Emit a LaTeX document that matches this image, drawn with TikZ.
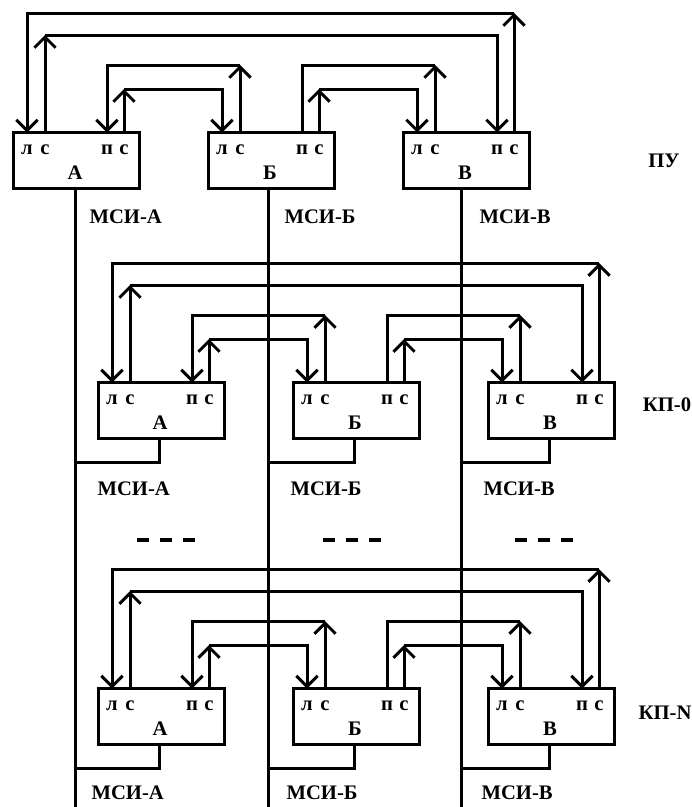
\documentclass[tikz,border=0pt]{standalone}
\usepackage{fontspec}
\setmainfont{Liberation Serif}
\usetikzlibrary{arrows.meta,calc}

% one level: three blocks A, B, V and the ring links between them
\newcommand{\msirow}[3]{%
  \foreach \k/\t [count=\i from 0] in {a/А,b/Б,v/В}{
    \node[unit] (#1\k) at ({#2+195*\i+64.5},{#3+29.5}) {};
    \node[txt] (#1\k-name) at ({#2+195*\i+63},{#3+42}) {\t};
    \foreach \p/\dx/\s in {l/15/л,lc/33/с,p/95/п,pc/112/с}{
      \coordinate (#1\k-\p) at ({#2+195*\i+\dx},{#3+1.5});
      \node[txt] (#1\k-\p-t) at ({#2+195*\i+\dx},{#3+19}) {\s};
    }
  }
  \draw[->] (#1v-pc) -- (#1v-pc |- 0,{#3-118});
  \draw[->] (#1v-pc |- 0,{#3-118}) -| (#1a-l);
  \draw[->] (#1a-lc) -- (#1a-lc |- 0,{#3-96});
  \draw[->] (#1a-lc |- 0,{#3-96}) -| (#1v-p);
  \draw[->] (#1b-lc) -- (#1b-lc |- 0,{#3-66});
  \draw[->] (#1b-lc |- 0,{#3-66}) -| (#1a-p);
  \draw[->] (#1a-pc) -- (#1a-pc |- 0,{#3-42});
  \draw[->] (#1a-pc |- 0,{#3-42}) -| (#1b-l);
  \draw[->] (#1v-lc) -- (#1v-lc |- 0,{#3-66});
  \draw (#1v-lc |- 0,{#3-66}) -| (#1b-p);
  \draw[->] (#1b-pc) -- (#1b-pc |- 0,{#3-42});
  \draw[->] (#1b-pc |- 0,{#3-42}) -| (#1v-l);
}

\begin{document}
\begin{tikzpicture}[x=0.75pt,y=-0.75pt,line width=2.25pt,
    >={Straight Barb[length=8pt,width=16pt]},
    unit/.style={draw,minimum width=94.5pt,minimum height=42pt,inner sep=0pt},
    txt/.style={font=\bfseries\fontsize{15.5}{18}\selectfont,inner sep=0pt},
    gap/.style={line width=3pt,dash pattern=on 9pt off 8.25pt}]
  \useasboundingbox (0,0) rectangle (692,807);

  \msirow{pu}{12}{131}
  \msirow{kz}{97}{381}
  \msirow{kn}{97}{687}

  % common lines
  \foreach \k/\t [count=\i from 0] in {a/А,b/Б,v/В}{
    \coordinate (msi\k) at ({75+193*\i},807);
    \draw (pu\k.south -| msi\k) -- (msi\k);
    \draw ($(kz\k.south)+(-2,0)$) |- (msi\k |- 0,462);
    \draw ($(kn\k.south)+(-2,0)$) |- (msi\k |- 0,768);
    \node[txt,anchor=west] (pu\k-msi) at ({88+195*\i},217) {МСИ-\t};
    \node[txt,anchor=west] (kz\k-msi) at ({96+193*\i},489) {МСИ-\t};
    \node[txt,anchor=west] (kn\k-msi) at ({90+195*\i},793) {МСИ-\t};
  }

  \node[txt] (pu) at (664,161) {ПУ};
  \node[txt] (kz) at (667,405) {КП-0};
  \node[txt] (kn) at (665,713) {КП-N};

  \foreach \x in {137,323,515}
    \draw[gap] (\x,540) -- ++(58,0);
\end{tikzpicture}
\end{document}
